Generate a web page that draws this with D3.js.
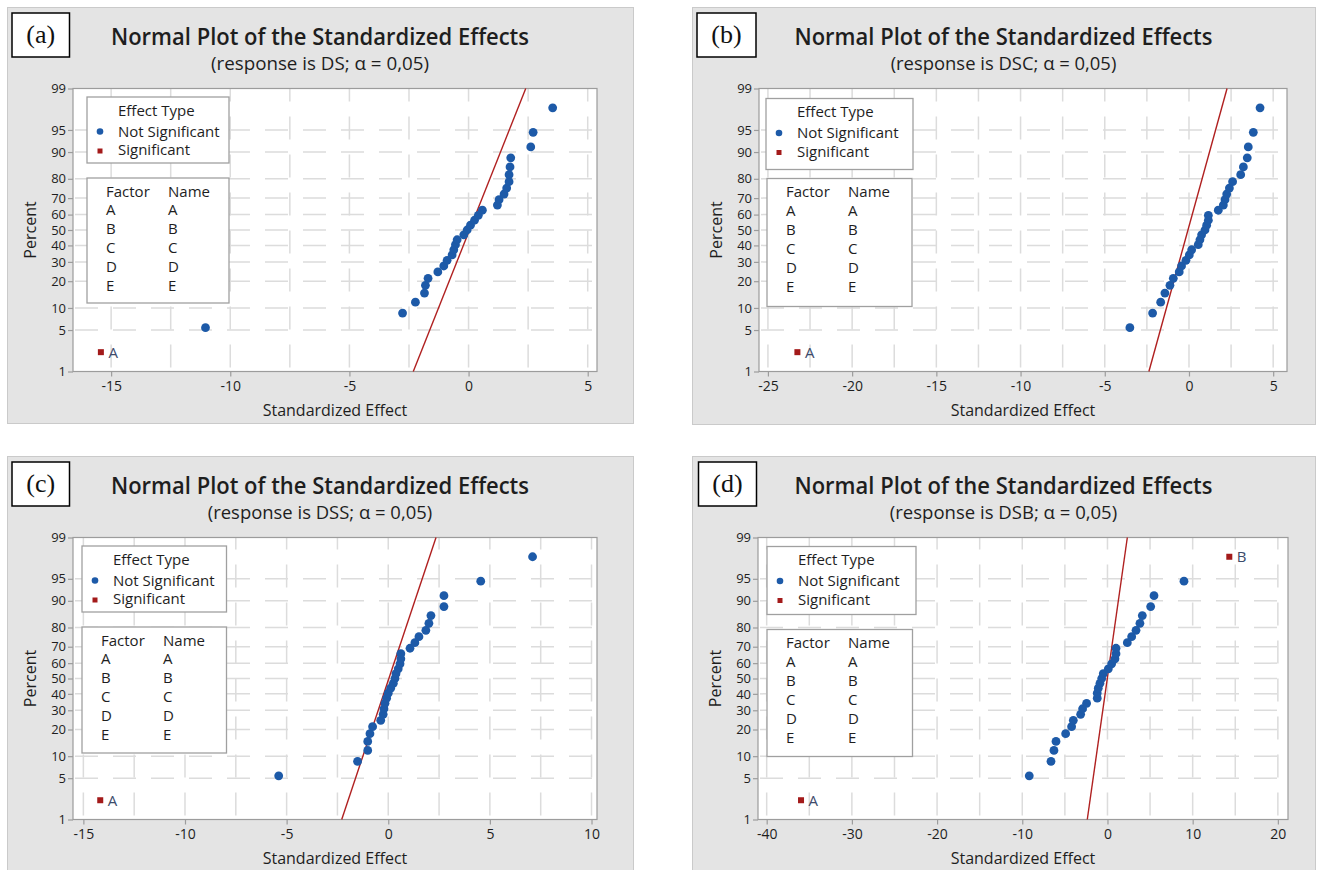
<!DOCTYPE html>
<html>
<head>
<meta charset="utf-8">
<script src="https://cdn.jsdelivr.net/npm/d3@7"></script>
<style>
  html, body { margin: 0; padding: 0; background: #ffffff; }
  svg { display: block; font-family: "Open Sans", "Noto Sans", sans-serif; }
</style>
</head>
<body>
<svg id="chart" width="1317" height="870"></svg>
<script>
// Standardized effects of the 31 model terms, sorted ascending, one array per response
const effectsDS  = [-15.43, -11.04, -2.77, -2.23, -1.85, -1.81, -1.70, -1.29, -1.04, -0.90, -0.69,
                    -0.62, -0.55, -0.48, -0.20, -0.06, 0.08, 0.25, 0.41, 0.58, 1.21, 1.28, 1.49,
                    1.60, 1.70, 1.70, 1.74, 1.77, 2.61, 2.71, 3.53];
const effectsDSC = [-23.25, -3.51, -2.16, -1.68, -1.43, -1.13, -0.93, -0.58, -0.44, -0.18, 0.02,
                    0.16, 0.55, 0.65, 0.75, 0.95, 1.05, 1.15, 1.15, 1.74, 2.04, 2.14, 2.24, 2.40,
                    2.59, 3.07, 3.23, 3.46, 3.52, 3.82, 4.22];
const effectsDSS = [-14.17, -5.39, -1.51, -1.01, -1.01, -0.90, -0.77, -0.37, -0.25, -0.21, -0.16,
                    -0.08, 0.00, 0.12, 0.25, 0.33, 0.38, 0.49, 0.58, 0.62, 0.62, 1.07, 1.31, 1.51,
                    1.85, 2.00, 2.10, 2.74, 2.74, 4.55, 7.10];
const effectsDSB = [-35.97, -9.18, -6.63, -6.28, -6.04, -4.91, -4.21, -4.01, -3.15, -2.92, -2.45,
                    -1.20, -1.20, -1.08, -0.88, -0.68, -0.49, 0.10, 0.49, 0.88, 1.00, 1.00, 2.33,
                    2.84, 3.35, 3.81, 4.09, 5.07, 5.46, 8.98, 14.30];

// Significant terms: [rank in the sorted effects, term label]
const significantDS  = [[0, "A"]];
const significantDSC = [[0, "A"]];
const significantDSS = [[0, "A"]];
const significantDSB = [[0, "A"], [30, "B"]];

// Reference line: standardized effect at 1 % and at 99 %
const refLineDS  = [-2.32, 2.40];
const refLineDSC = [-2.38, 2.26];
const refLineDSS = [-2.29, 2.35];
const refLineDSB = [-2.37, 2.33];

// Axis ticks
const percentTicks  = [1, 5, 10, 20, 30, 40, 50, 60, 70, 80, 90, 95, 99];
const effectTicksDS  = [-15, -10, -5, 0, 5];
const effectTicksDSC = [-25, -20, -15, -10, -5, 0, 5];
const effectTicksDSS = [-15, -10, -5, 0, 5, 10];
const effectTicksDSB = [-40, -30, -20, -10, 0, 10, 20];

// Labels
const panelTags   = ["(a)", "(b)", "(c)", "(d)"];
const responses   = ["DS", "DSC", "DSS", "DSB"];
const factorCodes = ["A", "B", "C", "D", "E"];
const factorNames = ["A", "B", "C", "D", "E"];
const alphaText   = "0,05";

const panels = [
  { tag: panelTags[0], response: responses[0], effects: effectsDS,  significant: significantDS,  refLine: refLineDS,  ticks: effectTicksDS },
  { tag: panelTags[1], response: responses[1], effects: effectsDSC, significant: significantDSC, refLine: refLineDSC, ticks: effectTicksDSC },
  { tag: panelTags[2], response: responses[2], effects: effectsDSS, significant: significantDSS, refLine: refLineDSS, ticks: effectTicksDSS },
  { tag: panelTags[3], response: responses[3], effects: effectsDSB, significant: significantDSB, refLine: refLineDSB, ticks: effectTicksDSB }
];

// Page geometry of the four panels
const layout = [
  { panel: [7, 7, 626, 416],   plot: [73, 88.5, 597, 371.5],  xDomain: [-16.60, 5.39],  gridStep: 2.5,
    tagBox: [12, 13, 57.5, 44],  effBox: [87, 97, 142, 66],    facBox: [87, 178, 142, 125],   subLen: 218 },
  { panel: [692, 7, 623, 417], plot: [759, 88.5, 1287, 371.5], xDomain: [-25.53, 5.82], gridStep: 2.5,
    tagBox: [697, 13, 59, 44],   effBox: [766, 98.5, 147, 71], facBox: [767, 178.5, 145, 128], subLen: 225.7 },
  { panel: [7, 456, 626, 416], plot: [73, 537.5, 597, 819.5],  xDomain: [-15.51, 10.27], gridStep: 2.5,
    tagBox: [12, 462, 57.5, 44], effBox: [82, 546, 144.5, 66], facBox: [82, 627, 144.5, 126], subLen: 224.4 },
  { panel: [692, 456, 623, 416], plot: [758, 537.5, 1288, 819.5], xDomain: [-41.02, 21.19], gridStep: 5,
    tagBox: [698.5, 462, 58, 44], effBox: [767, 546.5, 149, 68], facBox: [767, 629.5, 145.5, 127], subLen: 227.4 }
];

const COLORS = {
  page: "#e4e4e4", pageEdge: "#cacaca", frame: "#9c9c9c", grid: "#dcdcdc",
  text: "#1e1e1e", blue: "#1d5aa8", red: "#a31a1a", line: "#b02020", note: "#3d4b6b"
};
const SANS  = "'Open Sans', 'Noto Sans', sans-serif";
const SERIF = "'Liberation Serif', 'Times New Roman', serif";

// Inverse standard normal CDF (Acklam's rational approximation)
function probit(p) {
  const a = [-3.969683028665376e+01, 2.209460984245205e+02, -2.759285104469687e+02,
             1.383577518672690e+02, -3.066479806614716e+01, 2.506628277459239e+00];
  const b = [-5.447609879822406e+01, 1.615858368580409e+02, -1.556989798598866e+02,
             6.680131188771972e+01, -1.328068155288572e+01];
  const c = [-7.784894002430293e-03, -3.223964580411365e-01, -2.400758277161838e+00,
             -2.549732539343734e+00, 4.374664141464968e+00, 2.938163982698783e+00];
  const d = [7.784695709041462e-03, 3.224671290700398e-01, 2.445134137142996e+00,
             3.754408661907416e+00];
  const pl = 0.02425, ph = 1 - pl;
  let q, r;
  if (p < pl) {
    q = Math.sqrt(-2 * Math.log(p));
    return (((((c[0]*q + c[1])*q + c[2])*q + c[3])*q + c[4])*q + c[5]) /
           ((((d[0]*q + d[1])*q + d[2])*q + d[3])*q + 1);
  }
  if (p > ph) {
    q = Math.sqrt(-2 * Math.log(1 - p));
    return -(((((c[0]*q + c[1])*q + c[2])*q + c[3])*q + c[4])*q + c[5]) /
            ((((d[0]*q + d[1])*q + d[2])*q + d[3])*q + 1);
  }
  q = p - 0.5; r = q * q;
  return (((((a[0]*r + a[1])*r + a[2])*r + a[3])*r + a[4])*r + a[5])*q /
         (((((b[0]*r + b[1])*r + b[2])*r + b[3])*r + b[4])*r + 1);
}

const svg = d3.select("#chart");

// Small helper for plain text labels
function label(sel, x, y, str, size, opts = {}) {
  return sel.append("text").attr("x", x).attr("y", y)
    .attr("text-anchor", opts.anchor || "start")
    .style("font-family", opts.family || SANS)
    .style("font-size", size + "px")
    .style("font-weight", opts.weight || 400)
    .attr("fill", opts.fill || COLORS.text)
    .text(str);
}

panels.forEach((P, k) => {
  const L = layout[k];
  const [px, py, pw, ph] = L.panel;
  const [left, top, right, bottom] = L.plot;
  const g = svg.append("g");

  // Panel background
  g.append("rect").attr("x", px + 0.5).attr("y", py + 0.5).attr("width", pw).attr("height", ph)
    .attr("fill", COLORS.page).attr("stroke", COLORS.pageEdge).attr("stroke-width", 1);

  // Scales: effect on x, normal score of percent on y
  const x = d3.scaleLinear().domain(L.xDomain).range([left, right]);
  const y = d3.scaleLinear().domain([probit(0.01), probit(0.99)]).range([bottom, top]);
  const yPct = pct => y(probit(pct / 100));

  // Plot area
  g.append("rect").attr("x", left).attr("y", top).attr("width", right - left).attr("height", bottom - top)
    .attr("fill", "#ffffff");

  // Dashed grid
  const vGrid = d3.range(Math.ceil(L.xDomain[0] / L.gridStep) * L.gridStep, L.xDomain[1] + 1e-9, L.gridStep);
  g.append("g").selectAll("line").data(vGrid).join("line")
    .attr("x1", d => x(d)).attr("x2", d => x(d)).attr("y1", bottom).attr("y2", top)
    .attr("stroke", COLORS.grid).attr("stroke-width", 1.5)
    .attr("stroke-dasharray", "23,15").attr("stroke-dashoffset", 34);
  g.append("g").selectAll("line").data(percentTicks.filter(p => p > 1 && p < 99)).join("line")
    .attr("x1", left).attr("x2", right).attr("y1", d => yPct(d)).attr("y2", d => yPct(d))
    .attr("stroke", COLORS.grid).attr("stroke-width", 1.5)
    .attr("stroke-dasharray", "23,15").attr("stroke-dashoffset", -2);

  // Frame
  g.append("rect").attr("x", left).attr("y", top).attr("width", right - left).attr("height", bottom - top)
    .attr("fill", "none").attr("stroke", COLORS.frame).attr("stroke-width", 1.2);

  // Axes
  const xAxis = d3.axisBottom(x).tickValues(P.ticks).tickFormat(d => String(d))
    .tickSize(5).tickPadding(5);
  const yAxis = d3.axisLeft(y).tickValues(percentTicks.map(p => probit(p / 100)))
    .tickFormat((d, i) => String(percentTicks[i])).tickSize(5).tickPadding(2);
  const styleAxis = (sel, size) => {
    sel.attr("font-family", null).attr("font-size", null);
    sel.select(".domain").remove();
    sel.selectAll(".tick line").attr("stroke", COLORS.frame).attr("stroke-width", 1.2);
    sel.selectAll(".tick text").attr("fill", COLORS.text)
      .style("font-family", SANS).style("font-size", size + "px");
  };
  g.append("g").attr("transform", `translate(0,${bottom})`).call(xAxis).call(styleAxis, 14);
  g.append("g").attr("transform", `translate(${left},0)`).call(yAxis).call(styleAxis, 13);

  // Axis titles
  label(g, (left + right) / 2, bottom + 44.5, "Standardized Effect", 16, { anchor: "middle" });
  label(g, 0, 0, "Percent", 16, { anchor: "middle" })
    .attr("transform", `translate(${left - 37},${(top + bottom) / 2}) rotate(-90)`);

  // Titles
  const cx = px + pw / 2;
  label(g, cx, py + 38, "Normal Plot of the Standardized Effects", 23, { anchor: "middle", weight: 600 })
    .attr("textLength", 418).attr("lengthAdjust", "spacingAndGlyphs");
  label(g, cx, py + 63, `(response is ${P.response}; α = ${alphaText})`, 18, { anchor: "middle" })
    .attr("textLength", L.subLen).attr("lengthAdjust", "spacingAndGlyphs");

  // Panel tag box
  const [tx, ty, tw, th] = L.tagBox;
  g.append("rect").attr("x", tx).attr("y", ty).attr("width", tw).attr("height", th)
    .attr("fill", "#ffffff").attr("stroke", "#000000").attr("stroke-width", 1.5);
  label(g, tx + tw / 2, ty + 30, P.tag, 26, { anchor: "middle", family: SERIF, fill: "#111111" });

  // Reference line
  const lineGen = d3.line().x(d => x(d[0])).y(d => yPct(d[1]));
  g.append("path").datum([[P.refLine[0], 1], [P.refLine[1], 99]])
    .attr("d", lineGen).attr("fill", "none").attr("stroke", COLORS.line).attr("stroke-width", 1.4);

  // Effects at median-rank plotting positions
  const n = P.effects.length;
  const sigMap = new Map(P.significant);
  const pts = P.effects.map((e, i) => ({
    effect: e, pct: 100 * (i + 1 - 0.3) / (n + 0.4), term: sigMap.get(i)
  }));
  const pg = g.append("g");
  pg.selectAll("circle").data(pts.filter(d => !d.term)).join("circle")
    .attr("cx", d => x(d.effect)).attr("cy", d => yPct(d.pct)).attr("r", 4.4)
    .attr("fill", COLORS.blue);
  const sig = pts.filter(d => d.term);
  pg.selectAll("rect.sig").data(sig).join("rect").attr("class", "sig")
    .attr("x", d => x(d.effect) - 3).attr("y", d => yPct(d.pct) - 3)
    .attr("width", 6).attr("height", 6).attr("fill", COLORS.red);
  sig.forEach(d => label(pg, x(d.effect) + 7.5, yPct(d.pct) + 5.5, d.term, 15, { fill: COLORS.note }));

  // Legend: effect type
  const [ex, ey, ew, eh] = L.effBox;
  const lg = g.append("g");
  lg.append("rect").attr("x", ex).attr("y", ey).attr("width", ew).attr("height", eh)
    .attr("fill", "#ffffff").attr("stroke", "#a0a0a0").attr("stroke-width", 1.3);
  label(lg, ex + 31, ey + 18.7, "Effect Type", 15);
  lg.append("circle").attr("cx", ex + 13).attr("cy", ey + 34.5).attr("r", 3.3).attr("fill", COLORS.blue);
  label(lg, ex + 31, ey + 39.5, "Not Significant", 15);
  lg.append("rect").attr("x", ex + 10.5).attr("y", ey + 51.5).attr("width", 5).attr("height", 5)
    .attr("fill", COLORS.red);
  label(lg, ex + 31, ey + 58, "Significant", 15);

  // Legend: factor names
  const [fx, fy, fw, fh] = L.facBox;
  lg.append("rect").attr("x", fx).attr("y", fy).attr("width", fw).attr("height", fh)
    .attr("fill", "#ffffff").attr("stroke", "#a0a0a0").attr("stroke-width", 1.3);
  label(lg, fx + 19, fy + 18.7, "Factor", 15);
  label(lg, fx + 81, fy + 18.7, "Name", 15);
  factorCodes.forEach((code, i) => {
    label(lg, fx + 19, fy + 37 + i * 19.1, code, 15);
    label(lg, fx + 81, fy + 37 + i * 19.1, factorNames[i], 15);
  });
});
</script>
</body>
</html>
